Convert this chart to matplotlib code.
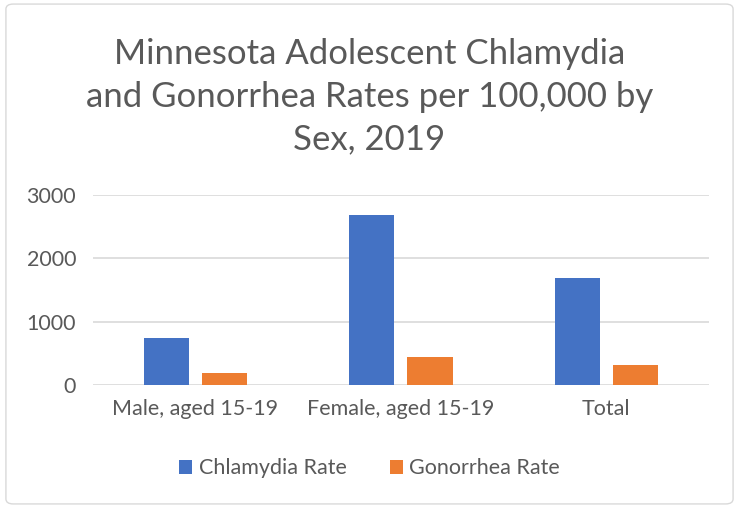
import matplotlib.pyplot as plt
from matplotlib.patches import FancyBboxPatch
import numpy as np

categories = ['Male, aged 15-19', 'Female, aged 15-19', 'Total']
chlamydia = [736, 2685, 1687]
gonorrhea = [189, 447, 321]
yticks = [0, 1000, 2000, 3000]

plt.rcParams['font.family'] = ['Lato', 'DejaVu Sans']
text_color = '#595959'

fig = plt.figure(figsize=(7.39, 5.08), dpi=100)
ax = fig.add_axes([0.1255, 0.242, 0.834, 0.374])

# rounded chart border
border = FancyBboxPatch((0.008, 0.008), 0.984, 0.984, boxstyle='round,pad=0,rounding_size=0.01',
                        transform=fig.transFigure, facecolor='none', edgecolor='#D9D9D9', linewidth=1)
fig.patches.append(border)

x = np.arange(len(categories))
w = 0.22
ax.bar(x - 0.142, chlamydia, w, color='#4472C4', label='Chlamydia Rate', zorder=3)
ax.bar(x + 0.142, gonorrhea, w, color='#ED7D31', label='Gonorrhea Rate', zorder=3)

ax.set_xlim(-0.5, 2.5)
ax.set_ylim(0, 3000)
ax.set_yticks(yticks)
ax.set_xticks(x)
ax.set_xticklabels(categories)
ax.grid(axis='y', color='#D9D9D9', linewidth=1.2, zorder=0)
for s in ax.spines.values():
    s.set_visible(False)
ax.tick_params(axis='both', length=0, labelsize=15.5, colors=text_color, pad=10)
ax.tick_params(axis='y', pad=12)
ax.set_facecolor('none')

fig.text(0.5, 0.81, 'Minnesota Adolescent Chlamydia\nand Gonorrhea Rates per 100,000 by\nSex, 2019',
         ha='center', va='center', fontsize=25, color=text_color, linespacing=1.4)

leg = fig.legend(loc='center', bbox_to_anchor=(0.5, 0.078), ncol=2, frameon=False,
                 fontsize=15.5, handlelength=0.6, handleheight=0.6, columnspacing=2.0, handletextpad=0.3)
for t in leg.get_texts():
    t.set_color(text_color)

fig.savefig('out.png', dpi=100)
